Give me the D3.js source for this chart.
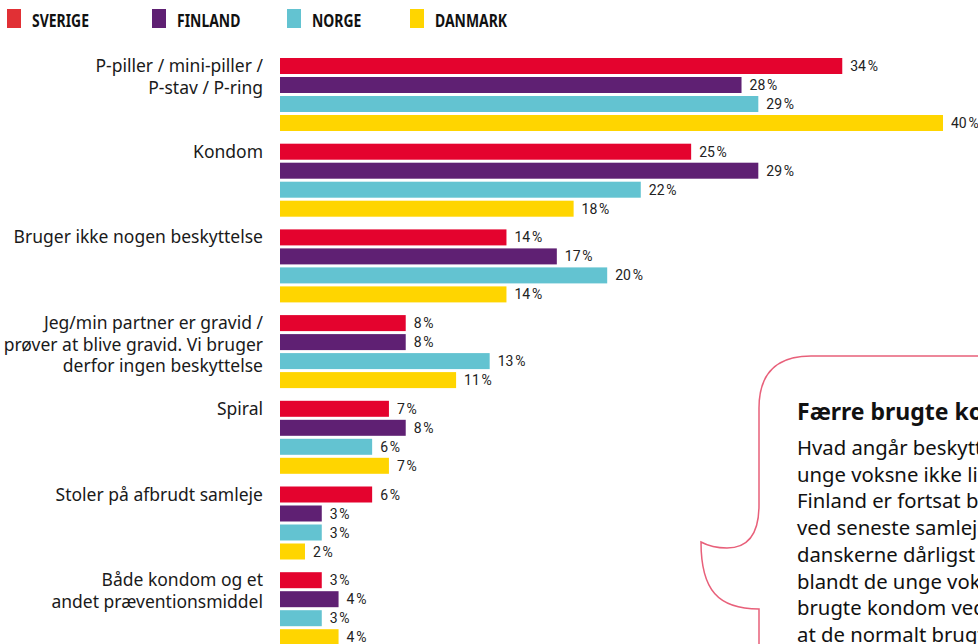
<!DOCTYPE html>
<html>
<head>
<meta charset="utf-8">
<script src="https://cdn.jsdelivr.net/npm/d3@7"></script>
<style>
  html, body { margin: 0; padding: 0; background: #fff; }
  svg { display: block; }
</style>
</head>
<body>
<div id="chart"></div>
<script>
var countries = ["SVERIGE", "FINLAND", "NORGE", "DANMARK"];
var colors = ["#e4032e", "#5f2073", "#63c3d1", "#ffd500"];
var categories = [
  ["P-piller / mini-piller /", "P-stav / P-ring"],
  ["Kondom"],
  ["Bruger ikke nogen beskyttelse"],
  ["Jeg/min partner er gravid /", "prøver at blive gravid. Vi bruger", "derfor ingen beskyttelse"],
  ["Spiral"],
  ["Stoler på afbrudt samleje"],
  ["Både kondom og et", "andet præventionsmiddel"]
];
var sverige = [34, 25, 14, 8, 7, 6, 3];
var finland = [28, 29, 17, 8, 8, 3, 4];
var norge   = [29, 22, 20, 13, 6, 3, 3];
var danmark = [40, 18, 14, 11, 7, 2, 4];
var calloutTitle = "Færre brugte kondom";
var calloutLines = [
  "Hvad angår beskyttelse,",
  "unge voksne ikke lidt",
  "Finland er fortsat bedst",
  "ved seneste samleje",
  "danskerne dårligst",
  "blandt de unge voksne",
  "brugte kondom ved",
  "at de normalt brugte"
];

var series = [sverige, finland, norge, danmark];
var width = 978, height = 644;

var svg = d3.select("#chart").append("svg")
    .attr("width", width)
    .attr("height", height)
    .style("font-family", "'Noto Sans', sans-serif");

// legend
var legendX = [7, 152, 287, 410];
var legend = svg.selectAll(".legend")
    .data(countries)
  .enter().append("g")
    .attr("class", "legend")
    .attr("transform", function(d, i) { return "translate(" + legendX[i] + ",9)"; });
legend.append("rect")
    .attr("width", 14)
    .attr("height", 19)
    .attr("fill", function(d, i) { return i == 0 ? "#e13035" : colors[i]; });
legend.append("text")
    .attr("transform", "translate(25,18) scale(0.82,1)")
    .attr("font-size", 17)
    .attr("font-weight", "bold")
    .attr("fill", "#111")
    .text(function(d) { return d; });

// scales (bars start at a fixed left edge, zero sits a little to its left)
var barLeft = 280;
var x = d3.scaleLinear().domain([0, 40]).range([271.4, 943]);
var yGroup = d3.scaleBand()
    .domain(d3.range(categories.length))
    .range([58, 58 + 85.7 * categories.length]);
var yInner = d3.scaleBand()
    .domain(d3.range(countries.length))
    .range([0, 73])
    .paddingInner(3 / 19);

var group = svg.selectAll(".group")
    .data(categories)
  .enter().append("g")
    .attr("class", "group")
    .attr("transform", function(d, i) { return "translate(0," + yGroup(i) + ")"; });

// category labels
group.append("text")
    .attr("text-anchor", "end")
    .attr("font-size", 17.5)
    .attr("fill", "#1a1a1a")
    .selectAll("tspan")
    .data(function(d) { return d; })
  .enter().append("tspan")
    .attr("x", 263)
    .attr("y", function(d, i) { return yInner.bandwidth() / 2 + 6 + i * 21.5; })
    .text(function(d) { return d; });

// bars
var bar = group.selectAll(".bar")
    .data(function(d, gi) { return series.map(function(s, ci) { return {ci: ci, v: s[gi]}; }); })
  .enter().append("g")
    .attr("class", "bar");
bar.append("rect")
    .attr("x", barLeft)
    .attr("y", function(d) { return yInner(d.ci); })
    .attr("width", function(d) { return x(d.v) - barLeft; })
    .attr("height", yInner.bandwidth())
    .attr("fill", function(d) { return colors[d.ci]; });
bar.append("text")
    .attr("x", function(d) { return x(d.v) + 8; })
    .attr("y", function(d) { return yInner(d.ci) + yInner.bandwidth() / 2 + 5; })
    .attr("font-family", "Roboto, sans-serif")
    .attr("font-size", 14)
    .attr("fill", "#222")
    .text(function(d) { return d.v + "\u202F%"; });

// callout bubble
svg.append("path")
    .attr("d", "M 985 356 H 811 Q 759 356 759 408 V 505 Q 759 548 727 548 Q 712 548 701 542 " +
               "C 701 590 718 609 759 609 V 650")
    .attr("fill", "none")
    .attr("stroke", "#e8607a")
    .attr("stroke-width", 1.5);

svg.append("text")
    .attr("x", 797)
    .attr("y", 420)
    .attr("font-size", 23)
    .attr("font-weight", "bold")
    .attr("fill", "#111")
    .text(calloutTitle);

svg.append("g").selectAll("text")
    .data(calloutLines)
  .enter().append("text")
    .attr("x", 797)
    .attr("y", function(d, i) { return 455 + i * 26.7; })
    .attr("font-size", 20.3)
    .attr("fill", "#111")
    .text(function(d) { return d; });
</script>
</body>
</html>
